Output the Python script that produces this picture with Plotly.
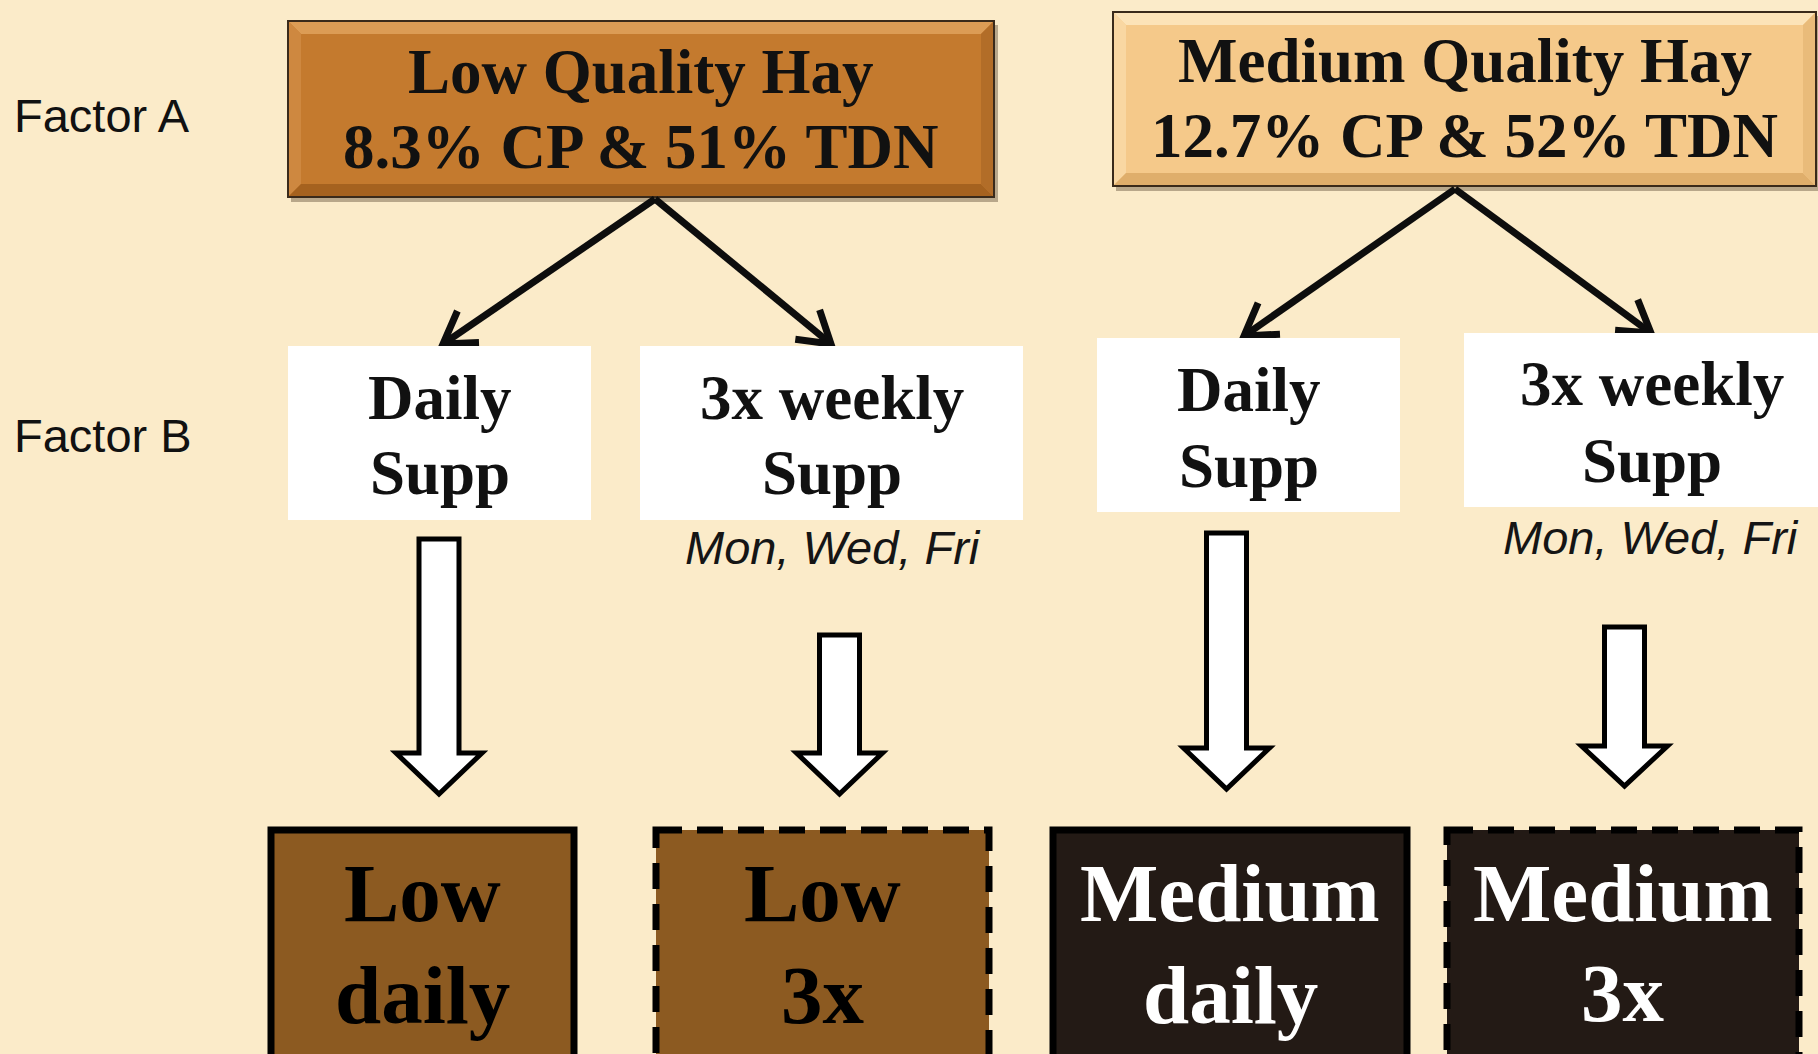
import numpy as np
import plotly.graph_objects as go

# ---------------- content ----------------
factor_labels = ["Factor A", "Factor B"]
hay_titles = ["Low Quality Hay", "Medium Quality Hay"]
hay_specs = ["8.3% CP & 51% TDN", "12.7% CP & 52% TDN"]
supp_line1 = ["Daily", "3x weekly", "Daily", "3x weekly"]
supp_line2 = ["Supp", "Supp", "Supp", "Supp"]
schedule_note = "Mon, Wed, Fri"
treat_line1 = ["Low", "Low", "Medium", "Medium"]
treat_line2 = ["daily", "3x", "daily", "3x"]

# ---------------- geometry / styles ----------------
W, H = 1818, 1054
BG = "#FBEBC9"
SERIF = "Liberation Serif"
SANS = "Liberation Sans"

factor_y = [115, 435]

hay_boxes = [(288, 21, 994, 197), (1113, 12, 1816, 186)]
hay_line_y = [(72, 147), (61, 136)]
hay_fill = ["#C47A2E", "#F5C98A"]
hay_bevel = [  # top, left, bottom, right
    ("#DC9C55", "#CE8840", "#A5621F", "#B26D28"),
    ("#FCE3B8", "#F9D7A2", "#DFAE6B", "#E9BB7A"),
]

supp_boxes = [(288, 346, 591, 520), (640, 346, 1023, 520),
              (1097, 338, 1400, 512), (1464, 333, 1818, 507)]
supp_line_y = [(398, 473), (398, 473), (390, 466), (384, 461)]
note_pos = [(833, 547), (1651, 537)]

# diagonal arrows: start, left tip, right tip
diag = [((655, 199), (443, 344), (831, 344)),
        ((1455, 189), (1244, 336), (1651, 333))]

# hollow block arrows: centre x, shaft top, head base, tip
blocks = [(439, 539, 753, 794), (839.5, 635, 753, 794),
          (1226.5, 533, 748, 789), (1624.5, 627, 746, 786)]

treat_boxes = [(271, 830, 574, 1080), (656, 830, 989, 1080),
               (1053, 830, 1407, 1080), (1447, 830, 1799, 1080)]
treat_fill = ["#8C5A21", "#8C5A21", "#231A15", "#231A15"]
treat_text = ["#000000", "#000000", "#FFFFFF", "#FFFFFF"]
treat_dash = ["solid", "26px,15px", "solid", "26px,15px"]
treat_line_y = [(893, 995), (893, 995), (893, 995), (893, 993)]

fig = go.Figure()
shapes = []
ann = []

# top boxes with shadow and bevel
for i, (x0, y0, x1, y1) in enumerate(hay_boxes):
    shapes.append(dict(type="rect", x0=x0 + 3, y0=y0 + 4, x1=x1 + 4, y1=y1 + 5,
                       fillcolor="rgba(60,40,20,0.35)", line=dict(width=0)))
    shapes.append(dict(type="rect", x0=x0, y0=y0, x1=x1, y1=y1,
                       fillcolor=hay_fill[i], line=dict(width=0)))
    b = 13
    top, left, bot, right = hay_bevel[i]
    shapes.append(dict(type="path", path=f"M{x0},{y0} L{x1},{y0} L{x1-b},{y0+b} L{x0+b},{y0+b} Z",
                       fillcolor=top, line=dict(width=0)))
    shapes.append(dict(type="path", path=f"M{x0},{y0} L{x0+b},{y0+b} L{x0+b},{y1-b} L{x0},{y1} Z",
                       fillcolor=left, line=dict(width=0)))
    shapes.append(dict(type="path", path=f"M{x0},{y1} L{x0+b},{y1-b} L{x1-b},{y1-b} L{x1},{y1} Z",
                       fillcolor=bot, line=dict(width=0)))
    shapes.append(dict(type="path", path=f"M{x1},{y0} L{x1},{y1} L{x1-b},{y1-b} L{x1-b},{y0+b} Z",
                       fillcolor=right, line=dict(width=0)))
    shapes.append(dict(type="rect", x0=x0, y0=y0, x1=x1, y1=y1,
                       fillcolor="rgba(0,0,0,0)", line=dict(color="#3A2A1A", width=2)))
    cx = (x0 + x1) / 2
    for txt, yy in zip([hay_titles[i], hay_specs[i]], hay_line_y[i]):
        ann.append(dict(x=cx, y=yy, text=f"<b>{txt}</b>", showarrow=False,
                        xanchor="center", yanchor="middle",
                        font=dict(family=SERIF, size=63, color="#111111")))

# factor labels
for lab, yy in zip(factor_labels, factor_y):
    ann.append(dict(x=12, y=yy, text=lab, showarrow=False, xanchor="left", yanchor="middle",
                    font=dict(family=SANS, size=47, color="#111111")))

# diagonal arrows with chevron heads
def chevron(start, tip, arm=36, ang=np.deg2rad(32)):
    v = np.array(tip, float) - np.array(start, float)
    v /= np.linalg.norm(v)
    back = -v
    def rot(u, a):
        c, s = np.cos(a), np.sin(a)
        return np.array([c * u[0] - s * u[1], s * u[0] + c * u[1]])
    p1 = np.array(tip) + arm * rot(back, ang)
    p2 = np.array(tip) + arm * rot(back, -ang)
    return f"M{p1[0]:.1f},{p1[1]:.1f} L{tip[0]},{tip[1]} L{p2[0]:.1f},{p2[1]:.1f}"

for start, lt, rt in diag:
    for tip in (lt, rt):
        v = np.array(tip, float) - np.array(start, float)
        v /= np.linalg.norm(v)
        end = np.array(tip) - 3 * v
        shapes.append(dict(type="line", x0=start[0], y0=start[1], x1=end[0], y1=end[1],
                           line=dict(color="#0d0d0d", width=7)))
        shapes.append(dict(type="path", path=chevron(start, tip),
                           line=dict(color="#0d0d0d", width=7)))

# white supplement boxes
for i, (x0, y0, x1, y1) in enumerate(supp_boxes):
    shapes.append(dict(type="rect", x0=x0, y0=y0, x1=x1, y1=y1,
                       fillcolor="#FFFFFF", line=dict(width=0)))
    cx = (x0 + x1) / 2 if i < 3 else 1652
    for txt, yy in zip([supp_line1[i], supp_line2[i]], supp_line_y[i]):
        ann.append(dict(x=cx, y=yy, text=f"<b>{txt}</b>", showarrow=False,
                        xanchor="center", yanchor="middle",
                        font=dict(family=SERIF, size=63, color="#111111")))

for (nx, ny) in note_pos:
    ann.append(dict(x=nx, y=ny, text=f"<i>{schedule_note}</i>", showarrow=False,
                    xanchor="center", yanchor="middle",
                    font=dict(family=SANS, size=47, color="#151515")))

# hollow block arrows
for cx, top, base, tip in blocks:
    sw, hw = 20, 43
    p = (f"M{cx-sw},{top} L{cx+sw},{top} L{cx+sw},{base} L{cx+hw},{base} "
         f"L{cx},{tip} L{cx-hw},{base} L{cx-sw},{base} Z")
    shapes.append(dict(type="path", path=p, fillcolor="#FFFFFF",
                       line=dict(color="#000000", width=5)))

# treatment boxes
for i, (x0, y0, x1, y1) in enumerate(treat_boxes):
    shapes.append(dict(type="rect", x0=x0, y0=y0, x1=x1, y1=y1, fillcolor=treat_fill[i],
                       line=dict(color="#000000", width=7, dash=treat_dash[i])))
    cx = (x0 + x1) / 2
    for txt, yy in zip([treat_line1[i], treat_line2[i]], treat_line_y[i]):
        ann.append(dict(x=cx, y=yy, text=f"<b>{txt}</b>", showarrow=False,
                        xanchor="center", yanchor="middle",
                        font=dict(family=SERIF, size=83, color=treat_text[i])))

for s in shapes:
    s.setdefault("xref", "x")
    s.setdefault("yref", "y")
    s.setdefault("layer", "above")

fig.update_layout(
    width=W, height=H,
    margin=dict(l=0, r=0, t=0, b=0),
    paper_bgcolor=BG, plot_bgcolor=BG,
    xaxis=dict(range=[0, W], visible=False, fixedrange=True),
    yaxis=dict(range=[H, 0], visible=False, fixedrange=True),
    shapes=shapes, annotations=ann, showlegend=False,
)

fig.write_html("out.html", config={"displayModeBar": False},
               post_script="document.body.style.margin='0';document.body.style.background='%s';" % BG)
